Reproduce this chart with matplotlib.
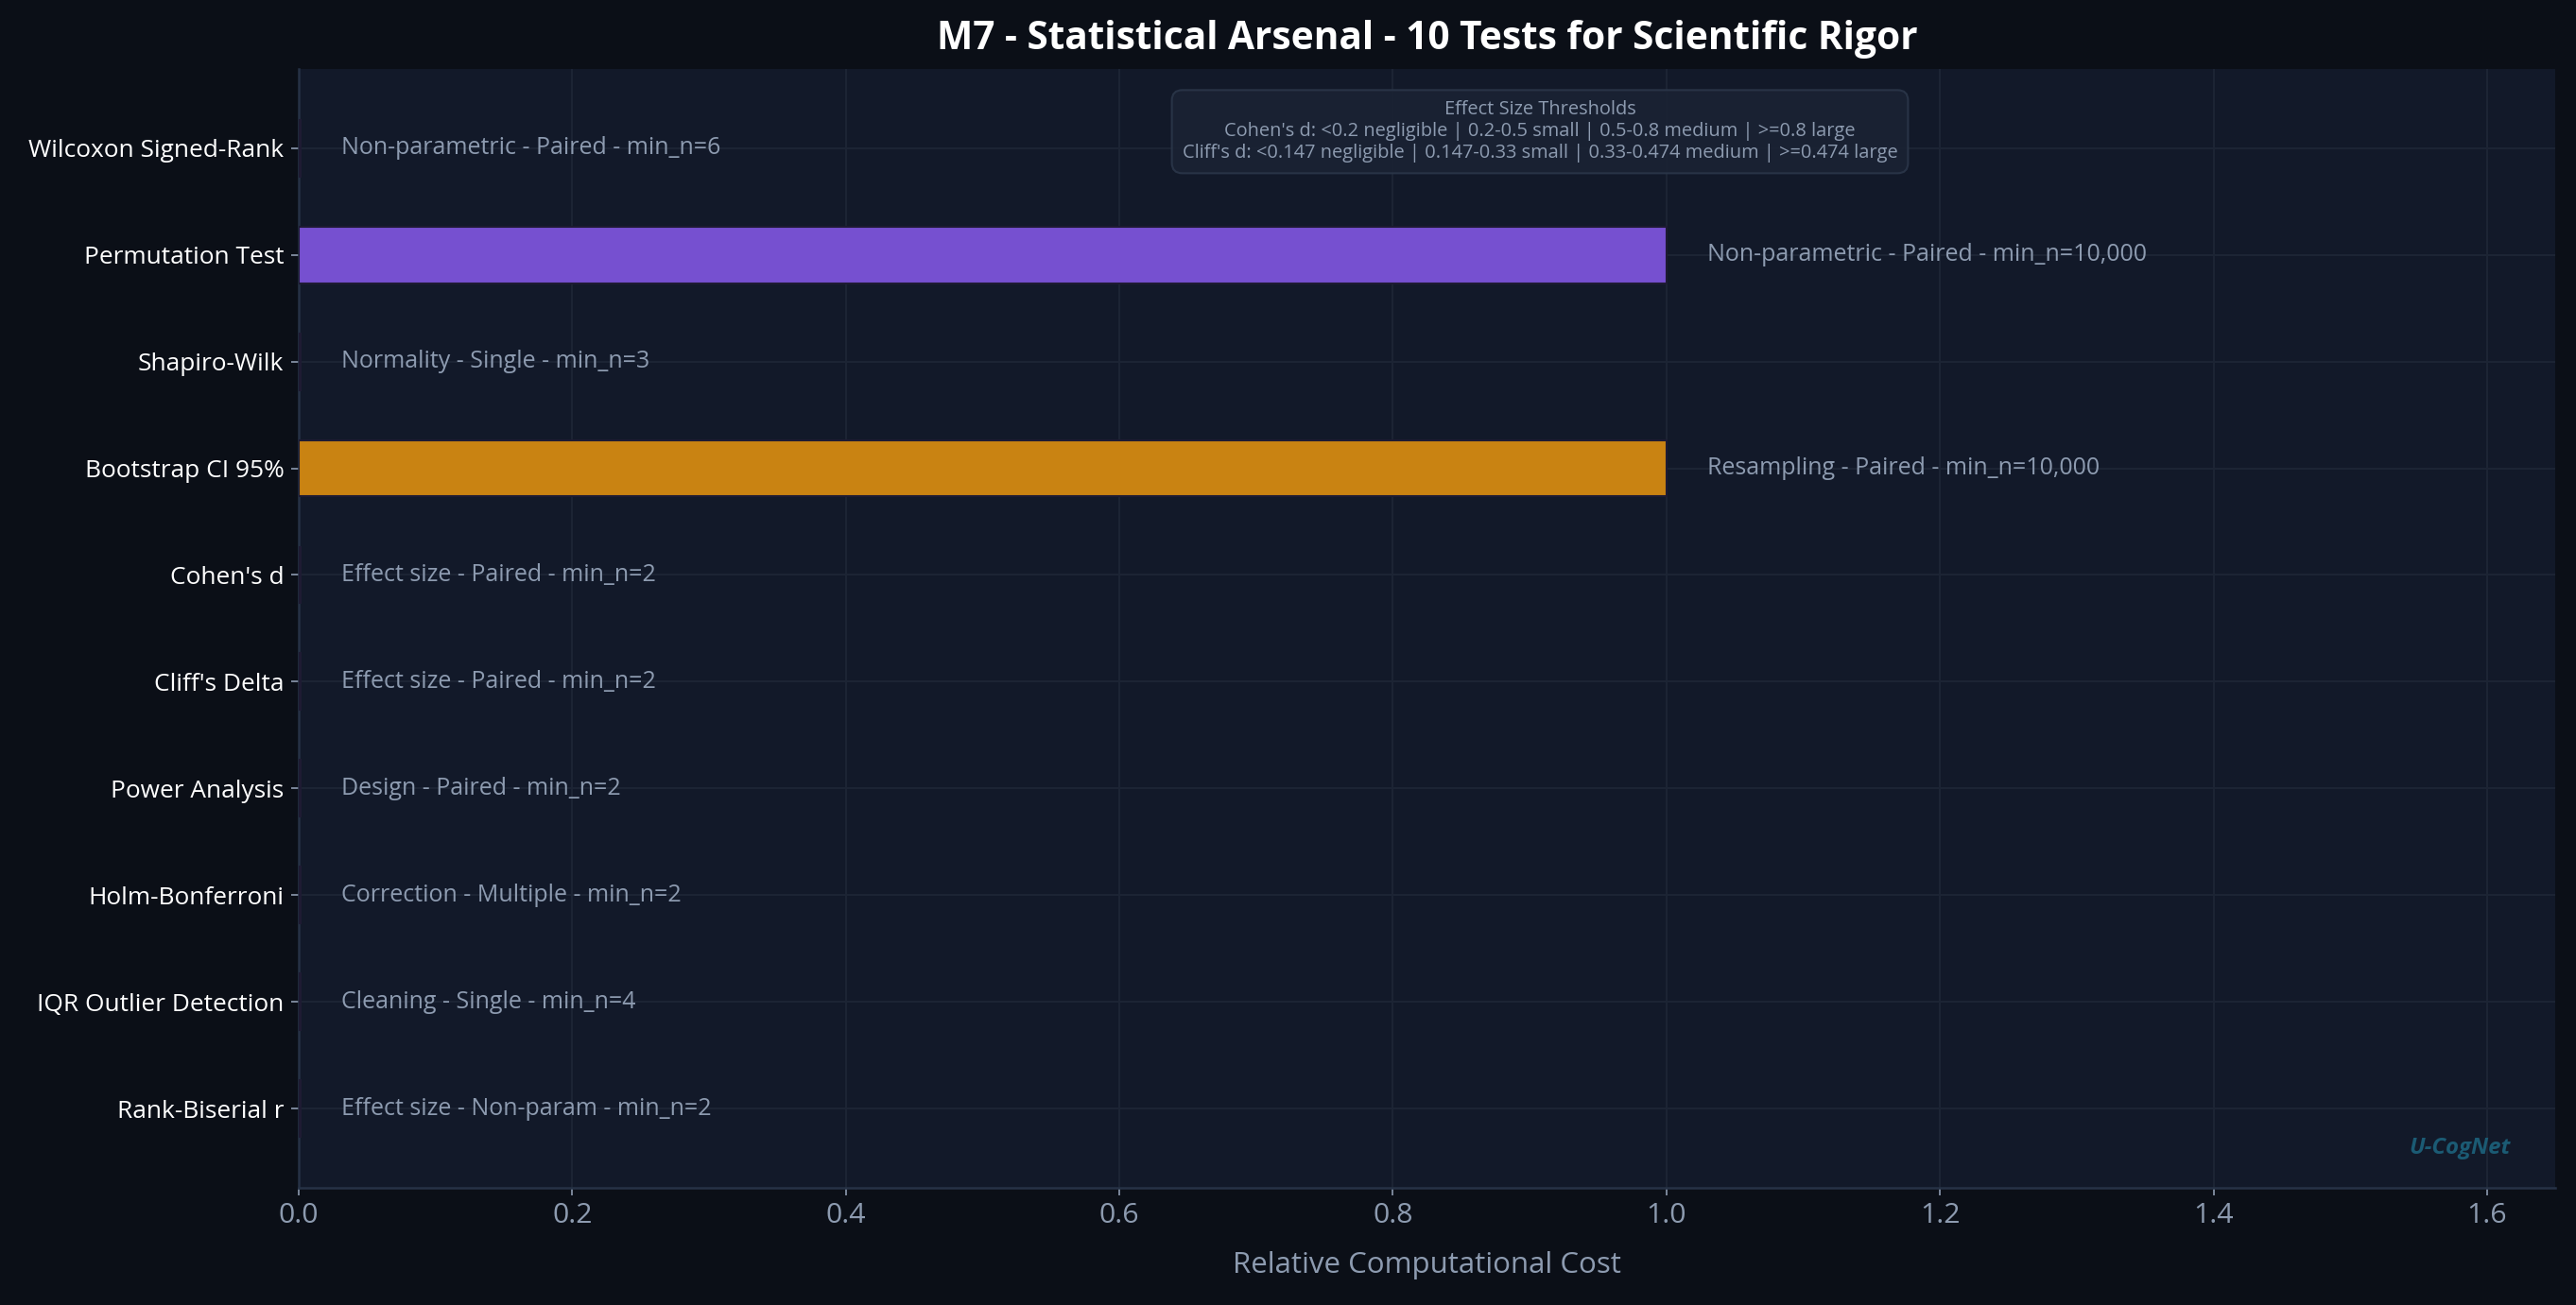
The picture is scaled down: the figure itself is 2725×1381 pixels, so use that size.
"""
M7 statistical arsenal - relative computational cost per test
"""

import matplotlib
matplotlib.use("Agg")
import matplotlib.pyplot as plt
import numpy as np

# ── Data ───────────────────────────────────────────────────
tests = ["Wilcoxon Signed-Rank", "Permutation Test", "Shapiro-Wilk",
         "Bootstrap CI 95%", "Cohen's d", "Cliff's Delta", "Power Analysis",
         "Holm-Bonferroni", "IQR Outlier Detection", "Rank-Biserial r"]
cost = [0.001, 1.0, 0.001, 1.0, 0.001, 0.001, 0.001, 0.001, 0.001, 0.001]
category = ["Non-parametric", "Non-parametric", "Normality", "Resampling",
            "Effect size", "Effect size", "Design", "Correction", "Cleaning",
            "Effect size"]
design = ["Paired", "Paired", "Single", "Paired", "Paired", "Paired",
          "Paired", "Multiple", "Single", "Non-param"]
min_n = [6, 10000, 3, 10000, 2, 2, 2, 2, 4, 2]
bar_colors = ["#2f6fb0", "#7650d0", "#3aa07a", "#c98312", "#d04f6a",
              "#d07a4f", "#4fa0d0", "#8a6fd0", "#50b0a0", "#b05f9a"]

# ── Style ──────────────────────────────────────────────────
BG = "#0b0f17"
AX_BG = "#121929"
GRID = "#1d2535"
SPINE = "#263246"
TXT = "#ffffff"
MUTED = "#8d9bb0"

plt.rcParams["font.family"] = ["Open Sans", "DejaVu Sans"]

fig, ax = plt.subplots(figsize=(2725 / 150, 1381 / 150), dpi=150)
fig.patch.set_facecolor(BG)
ax.set_facecolor(AX_BG)

y = np.arange(len(tests))
ax.barh(y, cost, height=0.53, color=bar_colors, edgecolor="#1e1b33",
        linewidth=1.0, zorder=3)

for yi, c, cat, d, n in zip(y, cost, category, design, min_n):
    ax.text(c + 0.03, yi, f"{cat} - {d} - min_n={n:,}", va="center",
            ha="left", fontsize=12, color=MUTED, zorder=4)

ax.set_yticks(y)
ax.set_yticklabels(tests, fontsize=12.6, color=TXT)
ax.invert_yaxis()
ax.set_xlim(0, 1.65)
ax.set_ylim(9.74, -0.74)
ax.set_xticks(np.arange(0, 1.61, 0.2))
ax.tick_params(axis="x", colors=MUTED, labelsize=14.5, length=4)
ax.tick_params(axis="y", colors=MUTED, length=4)
for lab in ax.get_yticklabels():
    lab.set_color(TXT)

ax.set_xlabel("Relative Computational Cost", fontsize=15, color=MUTED,
              labelpad=11)
ax.set_title("M7 - Statistical Arsenal - 10 Tests for Scientific Rigor",
             fontsize=19.5, fontweight="bold", color=TXT, pad=10)

ax.grid(True, color=GRID, linewidth=0.9, zorder=0)
ax.set_axisbelow(True)
for side in ["top", "right"]:
    ax.spines[side].set_visible(False)
for side in ["left", "bottom"]:
    ax.spines[side].set_color(SPINE)
    ax.spines[side].set_linewidth(1.2)

# threshold box
ax.text(0.55, 0.972,
        "Effect Size Thresholds\n"
        "Cohen's d: <0.2 negligible | 0.2-0.5 small | 0.5-0.8 medium | >=0.8 large\n"
        "Cliff's d: <0.147 negligible | 0.147-0.33 small | 0.33-0.474 medium | >=0.474 large",
        transform=ax.transAxes, ha="center", va="top", fontsize=9.6,
        color=MUTED, linespacing=1.2, zorder=5,
        bbox=dict(boxstyle="round,pad=0.55", facecolor="#1a2233",
                  edgecolor="#2a3548", alpha=0.95))

# watermark
ax.text(0.98, 0.025, "U-CogNet", transform=ax.transAxes, ha="right",
        va="bottom", fontsize=11.5, fontweight="bold", fontstyle="italic",
        color="#1b5b74", zorder=5)

plt.subplots_adjust(left=0.116, right=0.992, top=0.947, bottom=0.09)
plt.savefig("out.png", dpi=150, facecolor=BG)
